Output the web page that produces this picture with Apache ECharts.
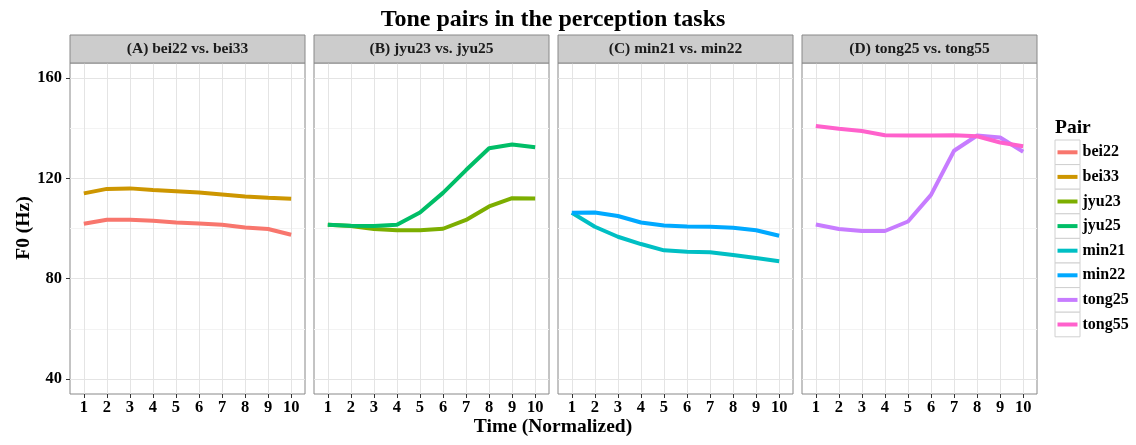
<!DOCTYPE html>
<html><head><meta charset="utf-8">
<script src="https://cdn.jsdelivr.net/npm/echarts@6/dist/echarts.min.js"></script>
<style>html,body{margin:0;padding:0;background:#fff}#c{width:1136px;height:445px}</style>
</head><body><div id="c"></div>
<script>
const time = [1,2,3,4,5,6,7,8,9,10];
const yTicks = [40,80,120,160];
const yMinor = [60,100,140];
const panelTitles = ['(A) bei22 vs. bei33','(B) jyu23 vs. jyu25','(C) min21 vs. min22','(D) tong25 vs. tong55'];
const pairNames = ['bei22','bei33','jyu23','jyu25','min21','min22','tong25','tong55'];
const pairPanel = [0,0,1,1,2,2,3,3];
const bei22  = [101.9,103.5,103.5,103.1,102.4,102.0,101.5,100.4,99.8,97.5];
const bei33  = [114.0,115.8,116.0,115.4,114.9,114.4,113.6,112.8,112.3,111.9];
const jyu23  = [101.5,101.0,99.8,99.3,99.3,99.9,103.4,108.8,112.1,112.0];
const jyu25  = [101.5,101.1,101.0,101.5,106.4,114.2,123.3,132.0,133.5,132.4];
const min21  = [106.3,100.7,96.7,93.8,91.3,90.7,90.5,89.4,88.2,86.9];
const min22  = [106.3,106.4,105.0,102.4,101.2,100.8,100.7,100.3,99.3,97.1];
const tong25 = [101.6,99.8,99.0,99.0,102.8,113.4,131.0,137.1,136.3,130.6];
const tong55 = [140.9,139.8,138.9,137.2,137.1,137.1,137.2,136.8,134.3,132.8];
const pairValues = [bei22,bei33,jyu23,jyu25,min21,min22,tong25,tong55];
const colors = ['#F8766D','#CD9600','#7CAE00','#00BE67','#00BFC4','#00A9FF','#C77CFF','#FF61CC'];

const FONT = "'Liberation Serif', 'DejaVu Serif', serif";
const panelLeft = [70, 314, 558, 802];
const panelW = 235, plotTop = 63, plotH = 331, stripTop = 35, stripH = 28;

const grids = [], xAxes = [], yAxes = [], series = [], graphics = [];
panelLeft.forEach((l, i) => {
  grids.push({left: l, top: plotTop, width: panelW, height: plotH, show: true,
    backgroundColor: '#fff', borderColor: '#888', borderWidth: 1});
  xAxes.push({type: 'value', gridIndex: i, min: 0.4, max: 10.6,
    axisLine: {show: false},
    axisTick: {show: true, length: 4, lineStyle: {color: '#333'}, customValues: time},
    axisLabel: {customValues: time, margin: 5, fontFamily: FONT, fontWeight: 'bold', fontSize: 16.5, color: '#000'},
    splitLine: {show: true, lineStyle: {color: '#e4e4e4', width: 1}}});
  yAxes.push({type: 'value', gridIndex: i, min: 34, max: 166,
    axisLine: {show: false},
    axisTick: {show: i === 0, length: 4, lineStyle: {color: '#333'}, customValues: yTicks},
    axisLabel: {show: i === 0, customValues: yTicks, margin: 8, fontFamily: FONT, fontWeight: 'bold', fontSize: 16.5, color: '#000'},
    splitLine: {show: true, lineStyle: {color: '#e4e4e4', width: 1}}});
  graphics.push({type: 'rect', shape: {x: l, y: stripTop, width: panelW, height: stripH},
    style: {fill: '#cccccc', stroke: '#888', lineWidth: 1}, z: 10});
  graphics.push({type: 'text', x: l + panelW / 2, y: stripTop + stripH / 2,
    style: {text: panelTitles[i], font: "bold 15.5px " + FONT, fill: '#1a1a1a', align: 'center', verticalAlign: 'middle'}, z: 11});
});
// minor y grid axes
panelLeft.forEach((l, i) => {
  yAxes.push({type: 'value', gridIndex: i, min: 34, max: 166, position: 'left',
    axisLine: {show: false}, axisLabel: {show: false},
    axisTick: {show: false, customValues: yMinor},
    splitLine: {show: true, lineStyle: {color: '#f3f3f3', width: 1}}});
});

pairNames.forEach((n, k) => {
  const p = pairPanel[k];
  series.push({name: n, type: 'line', xAxisIndex: p, yAxisIndex: p,
    data: time.map((t, j) => [t, pairValues[k][j]]),
    symbol: 'none', lineStyle: {width: 4, color: colors[k]}, itemStyle: {color: colors[k]},
    emphasis: {disabled: true}, z: 3});
});

// legend key boxes
const keyTop = 140, keyH = 24.6;
pairNames.forEach((n, k) => {
  graphics.push({type: 'rect', shape: {x: 1055, y: keyTop + k * keyH, width: 25, height: keyH},
    style: {fill: '#fff', stroke: '#d0d0d0', lineWidth: 1}, z: 0});
});

graphics.push({type: 'text', x: 553, y: 20,
  style: {text: 'Tone pairs in the perception tasks', font: "bold 24px " + FONT, fill: '#000', align: 'center', verticalAlign: 'middle'}});
graphics.push({type: 'text', x: 553, y: 427,
  style: {text: 'Time (Normalized)', font: "bold 19.5px " + FONT, fill: '#000', align: 'center', verticalAlign: 'middle'}});
graphics.push({type: 'text', x: 1055, y: 128,
  style: {text: 'Pair', font: "bold 19.5px " + FONT, fill: '#000', align: 'left', verticalAlign: 'middle'}});
graphics.push({type: 'text', x: 23.5, y: 228, rotation: Math.PI / 2,
  style: {text: 'F0 (Hz)', font: "bold 19.5px " + FONT, fill: '#000', align: 'center', verticalAlign: 'middle'}});

const chart = echarts.init(document.getElementById('c'), null, {renderer: 'canvas'});
chart.setOption({
  animation: false,
  color: colors,
  grid: grids, xAxis: xAxes, yAxis: yAxes, series: series,
  legend: {orient: 'vertical', left: 1057.5, top: keyTop, padding: 0, itemWidth: 20, itemHeight: 4, itemGap: 0,
    icon: 'rect', data: pairNames, selectedMode: false,
    textStyle: {fontFamily: FONT, fontWeight: 'bold', fontSize: 16, color: '#000', lineHeight: keyH}},
  graphic: graphics
});
</script></body></html>
